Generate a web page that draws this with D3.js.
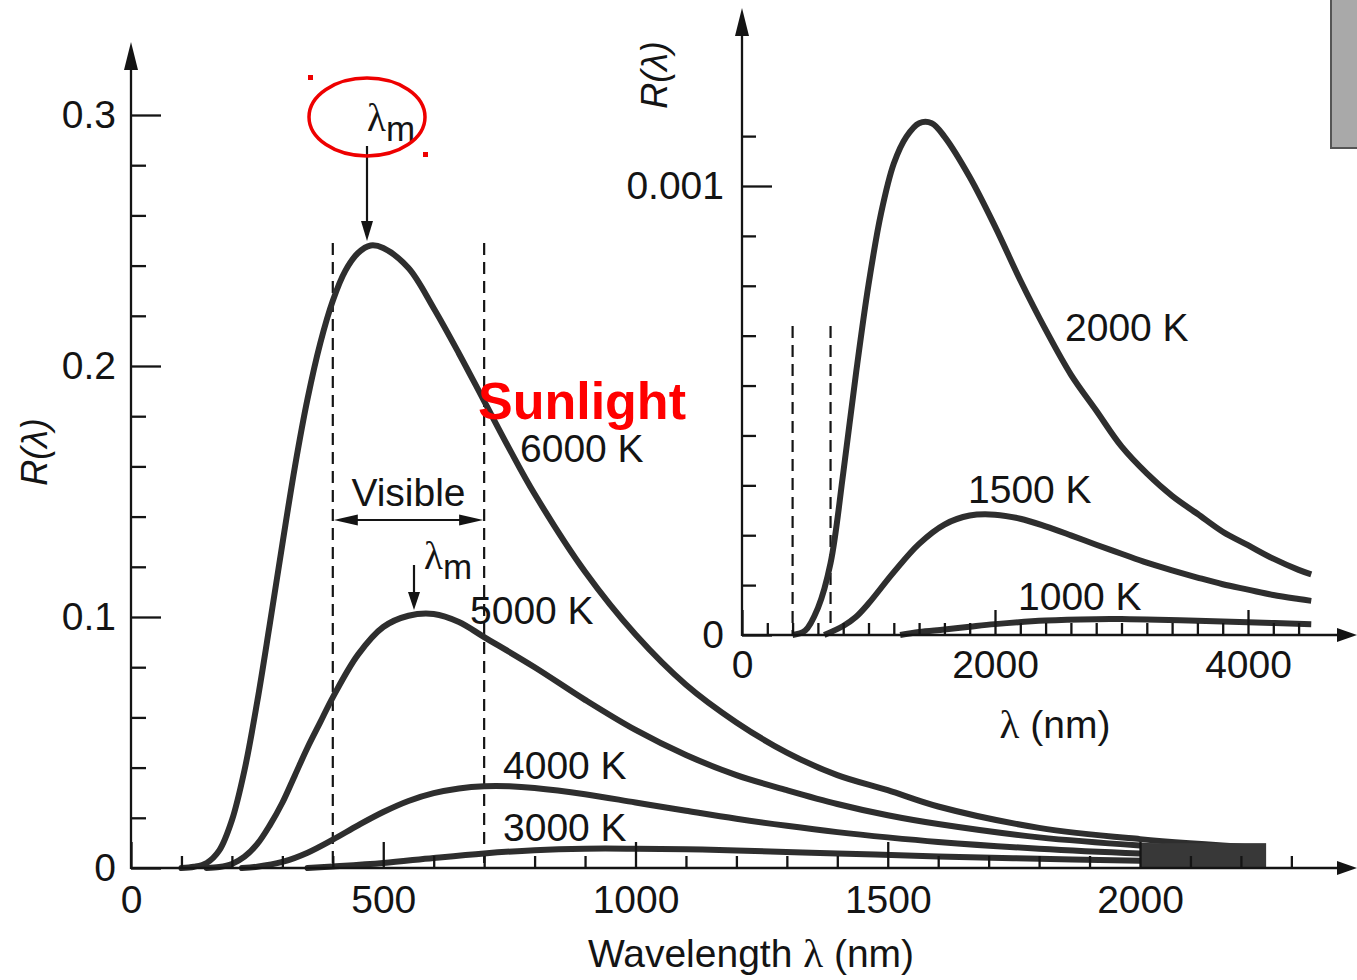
<!DOCTYPE html>
<html><head><meta charset="utf-8">
<script src="https://cdn.jsdelivr.net/npm/d3@7"></script>
<style>
body{margin:0;background:#fff;}
svg{display:block;}
text{font-family:"Liberation Sans",Arial,sans-serif;fill:#141414;}
</style>
</head><body>
<svg id="c" width="1357" height="980"></svg>
<script>
// ---------- Main chart data (wavelength nm, R) ----------
const wl6000 = [100,125,150,175,200,225,250,275,300,325,350,375,400,425,450,475,500,550,600,650,700,750,800,900,1000,1100,1200,1300,1400,1500,1600,1800,2000,2240];
const r6000  = [0,0.0005,0.002,0.007,0.019,0.039,0.066,0.097,0.129,0.160,0.187,0.209,0.226,0.238,0.245,0.248,0.247,0.239,0.223,0.205,0.186,0.167,0.149,0.118,0.093,0.073,0.058,0.046,0.037,0.031,0.0245,0.016,0.0115,0.008];
const wl5000 = [150,175,200,225,250,275,300,325,350,375,400,450,500,550,600,650,700,800,900,1000,1100,1200,1300,1400,1500,1600,1800,2000,2240];
const r5000  = [0,0.0004,0.0016,0.0045,0.0095,0.017,0.026,0.037,0.048,0.058,0.068,0.085,0.096,0.1005,0.1012,0.098,0.092,0.080,0.067,0.055,0.045,0.037,0.031,0.0255,0.021,0.0175,0.0122,0.009,0.0065];
const wl4000 = [220,250,300,350,400,450,500,550,600,650,700,750,800,900,1000,1100,1200,1300,1400,1500,1600,1800,2000,2240];
const r4000  = [0,0.0005,0.0024,0.0061,0.0113,0.017,0.0223,0.0267,0.0298,0.0317,0.0326,0.0326,0.0319,0.0294,0.0261,0.0228,0.0196,0.0168,0.0143,0.0122,0.0104,0.0077,0.0058,0.0042];
const wl3000 = [350,400,500,600,700,800,900,1000,1100,1200,1400,1600,1800,2000,2240];
const r3000  = [0,0.0006,0.002,0.004,0.0058,0.0071,0.0077,0.0077,0.0075,0.007,0.0058,0.0046,0.0037,0.0029,0.0022];

// ---------- Inset data (wavelength nm, R) ----------
const wl2000 = [400,500,600,700,800,900,1000,1100,1200,1300,1400,1500,1600,1800,2000,2200,2400,2600,2800,3000,3200,3400,3600,3800,4000,4200,4400,4500];
const r2000  = [0,0.00001,0.00006,0.00016,0.00036,0.00058,0.00078,0.00094,0.00105,0.00111,0.00114,0.00114,0.00111,0.00102,0.00091,0.00079,0.00068,0.00058,0.0005,0.00042,0.00036,0.00031,0.00027,0.00023,0.0002,0.00017,0.000145,0.000135];
const wl1500 = [650,800,900,1000,1200,1400,1600,1800,2000,2200,2400,2600,2800,3000,3200,3400,3600,3800,4000,4200,4400,4500];
const r1500  = [0,0.00002,0.00004,0.00007,0.00014,0.000203,0.000246,0.000266,0.000268,0.000259,0.000242,0.000222,0.000201,0.000181,0.000161,0.000144,0.000128,0.000113,0.000101,0.000089,0.00008,0.000076];
const wl1000 = [1250,1400,1600,1800,2000,2400,2800,3000,3200,3600,4000,4500];
const r1000  = [0,0.0000066,0.0000122,0.0000184,0.0000242,0.0000323,0.0000353,0.0000354,0.0000346,0.0000319,0.0000284,0.0000238];

// ---------- Ticks / labels ----------
const mainXMajor = [0,500,1000,1500,2000];
const mainXMinor = [100,200,300,400,600,700,800,900,1100,1200,1300,1400,1600,1700,1800,1900,2100,2200,2300];
const mainYMajor = [0,0.1,0.2,0.3];
const mainYMinor = [0.02,0.04,0.06,0.08,0.12,0.14,0.16,0.18,0.22,0.24,0.26,0.28];
const insXMajor = [0,2000,4000];
const insXMinor = [200,400,600,800,1000,1200,1400,1600,1800,2200,2400,2600,2800,3000,3200,3400,3600,3800,4200,4400];
const insYMajor = [0,0.001];
const insYMinorSteps = [1,2,3,4,5,6,7,8,10];   // minor ticks in ninths of the labelled 0.001
const visibleBand = [400,700];
const mainLabels = [["6000 K",520,462],["5000 K",470,624],["4000 K",503,779],["3000 K",503,841]];
const insLabels  = [["2000 K",1065,341],["1500 K",968,503],["1000 K",1018,610]];

const svg = d3.select('#c');
const INK = '#141414', CURVE = '#2e2e2e';
const FS = 39;

// ---------- scales ----------
const x = d3.scaleLinear().domain([0,2000]).range([131,1140]);
const y = d3.scaleLinear().domain([0,0.3]).range([868,115]);
const xi = d3.scaleLinear().domain([0,4000]).range([742,1248]);
const yi = d3.scaleLinear().domain([0,0.001]).range([635,186]);

function tri(cx, cy, dir, len, hw){
  let p;
  if(dir==='up') p=[[cx,cy],[cx-hw,cy+len],[cx+hw,cy+len]];
  if(dir==='down') p=[[cx,cy],[cx-hw,cy-len],[cx+hw,cy-len]];
  if(dir==='right') p=[[cx,cy],[cx-len,cy-hw],[cx-len,cy+hw]];
  if(dir==='left') p=[[cx,cy],[cx+len,cy-hw],[cx+len,cy+hw]];
  svg.append('path').attr('d','M'+p.map(q=>q.join(',')).join('L')+'Z').attr('fill',INK);
}

function styleAxis(g){
  g.select('.domain').remove();
  g.selectAll('.tick line').attr('stroke',INK).attr('stroke-width',2.3);
  g.selectAll('.tick text').attr('font-size',FS).attr('fill',INK).attr('font-family','"Liberation Sans",Arial,sans-serif');
}

// ---------- main dashed visible lines ----------
visibleBand.forEach(v=>{
  svg.append('line').attr('x1',x(v)).attr('x2',x(v)).attr('y1',243).attr('y2',y(0))
    .attr('stroke',INK).attr('stroke-width',2.2).attr('stroke-dasharray','12,7');
});

// ---------- main curves ----------
const lineMain = d3.line().x(d=>x(d[0])).y(d=>y(d[1])).curve(d3.curveCatmullRom.alpha(0.5));
[[wl6000,r6000],[wl5000,r5000],[wl4000,r4000],[wl3000,r3000]].forEach(([w,r])=>{
  svg.append('path').datum(d3.zip(w,r)).attr('d',lineMain)
    .attr('fill','none').attr('stroke',CURVE).attr('stroke-width',6).attr('stroke-linecap','round');
});
// dark converged tail block
svg.append('rect').attr('x',x(2000)).attr('y',y(0.0099)).attr('width',x(2250)-x(2000)).attr('height',y(0)-y(0.0099))
  .attr('fill','#383838');

// ---------- main axes ----------
svg.append('g').attr('transform',`translate(0,${y(0)})`)
  .call(d3.axisBottom(x).tickValues(mainXMinor).tickSize(-12).tickFormat(''))
  .call(styleAxis);
svg.append('g').attr('transform',`translate(0,${y(0)})`)
  .call(d3.axisBottom(x).tickValues(mainXMajor).tickSize(-26).tickPadding(17).tickFormat(d3.format('d')))
  .call(styleAxis);
svg.append('g').attr('transform',`translate(${x(0)},0)`)
  .call(d3.axisLeft(y).tickValues(mainYMinor).tickSize(-15).tickFormat(''))
  .call(styleAxis);
svg.append('g').attr('transform',`translate(${x(0)},0)`)
  .call(d3.axisLeft(y).tickValues(mainYMajor).tickSize(-30).tickPadding(15).tickFormat(d=>d===0?'0':d3.format('.1f')(d)))
  .call(styleAxis);
svg.append('line').attr('x1',x(0)).attr('x2',x(0)).attr('y1',y(0)+1).attr('y2',60).attr('stroke',INK).attr('stroke-width',2.3);
tri(x(0),42,'up',28,7);
svg.append('line').attr('x1',x(0)).attr('x2',1340).attr('y1',y(0)).attr('y2',y(0)).attr('stroke',INK).attr('stroke-width',2.3);
tri(1357,y(0),'right',20,7);

// ---------- main titles ----------
const xt = svg.append('text').attr('x',751).attr('y',967).attr('text-anchor','middle').attr('font-size',FS);
xt.append('tspan').text('Wavelength ');
xt.append('tspan').attr('font-family','"Liberation Serif",serif').attr('font-size',FS+2).text('λ');
xt.append('tspan').text(' (nm)');
svg.append('text').attr('transform','translate(47,452) rotate(-90)').attr('text-anchor','middle')
  .attr('font-size',36).attr('font-style','italic').text('R(λ)');

// ---------- visible annotation ----------
svg.append('text').attr('x',(x(400)+x(700))/2).attr('y',506).attr('text-anchor','middle').attr('font-size',FS).text('Visible');
svg.append('line').attr('x1',x(400)+10).attr('x2',x(700)-10).attr('y1',520).attr('y2',520).attr('stroke',INK).attr('stroke-width',2.2);
tri(x(400)+1,520,'left',24,5.5);
tri(x(700)-1,520,'right',24,5.5);

// ---------- lambda_m annotations ----------
function lam(xp, base, sizeL){
  const t = svg.append('text').attr('x',xp).attr('y',base).attr('font-size',sizeL);
  t.append('tspan').attr('font-family','"Liberation Serif",serif').text('λ');
  t.append('tspan').attr('font-size',sizeL-4).attr('dy',10).text('m');
}
lam(367,131,39);
svg.append('line').attr('x1',367).attr('x2',367).attr('y1',146).attr('y2',225).attr('stroke',INK).attr('stroke-width',2.2);
tri(367,241,'down',20,6);
lam(424,569,39);
svg.append('line').attr('x1',414).attr('x2',414).attr('y1',565).attr('y2',595).attr('stroke',INK).attr('stroke-width',2.2);
tri(414,610,'down',18,6);

// curve labels
mainLabels.forEach(([t,xx,yy])=>svg.append('text').attr('x',xx).attr('y',yy).attr('font-size',FS).text(t));

// ---------- inset ----------
visibleBand.forEach(v=>{
  svg.append('line').attr('x1',xi(v)).attr('x2',xi(v)).attr('y1',326).attr('y2',yi(0))
    .attr('stroke',INK).attr('stroke-width',2.2).attr('stroke-dasharray','12,7');
});
const lineIns = d3.line().x(d=>xi(d[0])).y(d=>yi(d[1])).curve(d3.curveCatmullRom.alpha(0.5));
[[wl2000,r2000],[wl1500,r1500],[wl1000,r1000]].forEach(([w,r])=>{
  svg.append('path').datum(d3.zip(w,r)).attr('d',lineIns)
    .attr('fill','none').attr('stroke',CURVE).attr('stroke-width',6).attr('stroke-linecap','butt');
});
svg.append('g').attr('transform',`translate(0,${yi(0)})`)
  .call(d3.axisBottom(xi).tickValues(insXMinor).tickSize(-12).tickFormat(''))
  .call(styleAxis);
svg.append('g').attr('transform',`translate(0,${yi(0)})`)
  .call(d3.axisBottom(xi).tickValues(insXMajor).tickSize(-25).tickPadding(15).tickFormat(d3.format('d')))
  .call(styleAxis);
svg.append('g').attr('transform',`translate(${xi(0)},0)`)
  .call(d3.axisLeft(yi).tickValues(insYMinorSteps.map(k=>k*0.001/9)).tickSize(-14).tickFormat(''))
  .call(styleAxis);
svg.append('g').attr('transform',`translate(${xi(0)},0)`)
  .call(d3.axisLeft(yi).tickValues(insYMajor).tickSize(-30).tickPadding(18).tickFormat(d=>d===0?'0':'0.001'))
  .call(styleAxis);
svg.append('line').attr('x1',xi(0)).attr('x2',xi(0)).attr('y1',yi(0)+1).attr('y2',28).attr('stroke',INK).attr('stroke-width',2.3);
tri(xi(0),8,'up',28,7);
svg.append('line').attr('x1',xi(0)).attr('x2',1340).attr('y1',yi(0)).attr('y2',yi(0)).attr('stroke',INK).attr('stroke-width',2.3);
tri(1357,yi(0),'right',20,7);
const xti = svg.append('text').attr('x',1055).attr('y',738).attr('text-anchor','middle').attr('font-size',FS);
xti.append('tspan').attr('font-family','"Liberation Serif",serif').attr('font-size',FS+2).text('λ');
xti.append('tspan').text(' (nm)');
svg.append('text').attr('transform','translate(667,75) rotate(-90)').attr('text-anchor','middle')
  .attr('font-size',36).attr('font-style','italic').text('R(λ)');
insLabels.forEach(([t,xx,yy])=>svg.append('text').attr('x',xx).attr('y',yy).attr('font-size',FS).text(t));

// ---------- overlays: Sunlight, red ellipse, grey box ----------
svg.append('text').attr('x',478).attr('y',419).attr('font-size',52).attr('font-weight','bold')
  .style('fill','#ff0000').text('Sunlight');
svg.append('ellipse').attr('cx',367).attr('cy',117).attr('rx',58).attr('ry',39)
  .attr('fill','none').attr('stroke','#ee0000').attr('stroke-width',3.5);
svg.append('rect').attr('x',308).attr('y',75).attr('width',5).attr('height',5).attr('fill','#ee0000');
svg.append('rect').attr('x',423).attr('y',152).attr('width',5).attr('height',5).attr('fill','#ee0000');
svg.append('rect').attr('x',1331).attr('y',-2).attr('width',30).attr('height',150)
  .attr('fill','#a9a9a9').attr('stroke','#555').attr('stroke-width',2);
</script>
</body></html>
